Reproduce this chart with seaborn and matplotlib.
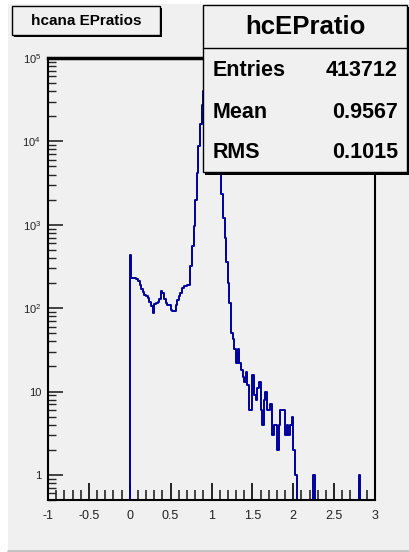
import numpy as np
import pandas as pd
import matplotlib
matplotlib.use("Agg")
import matplotlib.pyplot as plt
from matplotlib.patches import Rectangle
from matplotlib.lines import Line2D
from matplotlib.ticker import FixedLocator, LogLocator, NullFormatter, MultipleLocator
import seaborn as sns

# ---------------- data ----------------
bin_width = 0.02
first_bin_low = 0.0
counts = [
    430, 230, 232, 230, 225, 210, 190, 172, 157, 144,
    140, 131, 120, 105, 88, 112, 115, 120, 130, 160,
    150, 130, 115, 108, 108, 94, 92, 92, 110, 125,
    140, 150, 175, 185, 185, 190, 190, 320, 560, 970,
    2000, 4200, 8800, 16000, 27500, 40000, 52000, 58000, 56000, 46000,
    35000, 24000, 15000, 9500, 6200, 4300, 2320, 1210, 695, 362,
    198, 114, 50, 43, 32, 22, 32, 22, 18, 15,
    13, 17, 12, 6, 6, 16, 9, 8, 11, 13,
    6, 4, 8, 10, 6, 6, 7, 3, 4, 4,
    2, 4, 6, 6, 6, 3, 4, 3, 4, 5,
    2, 1,
]
isolated_x = [2.25, 2.81]
isolated_counts = [1, 1]

hist_title = "hcana EPratios"
stats_name = "hcEPratio"
stats_labels = ["Entries", "Mean", "RMS"]
stats_values = ["413712", "0.9567", "0.1015"]

x_ticks = [-1, -0.5, 0, 0.5, 1, 1.5, 2, 2.5, 3]
x_tick_labels = ["-1", "-0.5", "0", "0.5", "1", "1.5", "2", "2.5", "3"]
y_ticks = [1, 10, 100, 1000, 10000, 100000]
y_tick_labels = ["1", "10", r"$10^{2}$", r"$10^{3}$", r"$10^{4}$", r"$10^{5}$"]

centers = first_bin_low + bin_width * (np.arange(len(counts)) + 0.5)
df = pd.DataFrame({
    "ratio": np.concatenate([centers, isolated_x]),
    "n": np.array(counts + isolated_counts, dtype=float),
})

# ---------------- style ----------------
sns.set_theme(style="ticks")
plt.rcParams["font.family"] = ["Liberation Sans", "DejaVu Sans"]
plt.rcParams["axes.unicode_minus"] = False
plt.rcParams["mathtext.fontset"] = "custom"
plt.rcParams["mathtext.rm"] = "Liberation Sans"
plt.rcParams["mathtext.it"] = "Liberation Sans"
plt.rcParams["mathtext.default"] = "regular"

W, H = 409, 552
def fx(px):
    return px / W
def fy(py):
    return 1 - py / H
def frect(x0, y0, x1, y1, **kw):
    return Rectangle((fx(x0), fy(y1)), (x1 - x0) / W, (y1 - y0) / H,
                     transform=fig.transFigure, **kw)

canvas_col = "#f0f0f0"
line_col = "#00009c"

fig = plt.figure(figsize=(W / 100, H / 100), dpi=100, facecolor="white")
fig.patches.append(frect(8, 4, 409, 550, facecolor=canvas_col,
                         edgecolor="none", zorder=-10))
fig.add_artist(Line2D([fx(8), 1], [fy(550.5), fy(550.5)], color="#b8b8b8",
                      lw=1.2, transform=fig.transFigure, zorder=-5))

ax = fig.add_axes([fx(48), fy(500), (375 - 48) / W, (500 - 58) / H])
ax.set_facecolor(canvas_col)

sns.histplot(data=df, x="ratio", weights="n", bins=200, binrange=(-1, 3),
             element="step", fill=False, color=line_col, linewidth=1.4, ax=ax)
ax.set_yscale("log")
ax.set_xlim(-1, 3)
ax.set_ylim(0.5, 1e5)
ax.set_xlabel("")
ax.set_ylabel("")

ax.xaxis.set_major_locator(FixedLocator(x_ticks))
ax.set_xticklabels(x_tick_labels)
ax.xaxis.set_minor_locator(MultipleLocator(0.1))
ax.yaxis.set_major_locator(FixedLocator(y_ticks))
ax.set_yticklabels(y_tick_labels)
ax.yaxis.set_minor_locator(LogLocator(base=10, subs=np.arange(2, 10), numticks=20))
ax.yaxis.set_minor_formatter(NullFormatter())

ax.tick_params(axis="x", which="major", direction="in", length=12, width=1.2,
               labelsize=9, pad=7, colors="black", labelcolor="#222222")
ax.tick_params(axis="x", which="minor", direction="in", length=7, width=1.2)
ax.tick_params(axis="y", which="major", direction="in", length=11, width=1.2,
               labelsize=8, pad=5, labelcolor="#222222")
ax.tick_params(axis="y", which="minor", direction="in", length=5.5, width=1.0)
ax.tick_params(top=False, right=False, which="both")

for side, s in ax.spines.items():
    s.set_visible(True)
    s.set_color("black")
    s.set_linewidth(1.5)
ax.spines["top"].set_linewidth(2.5)

# ---------------- title box ----------------
fig.patches.append(frect(14, 8, 162, 37, facecolor="black", edgecolor="none", zorder=5))
fig.patches.append(frect(12, 6, 160, 35, facecolor=canvas_col, edgecolor="black",
                         linewidth=1.0, zorder=6))
fig.text(fx(86), fy(21), hist_title, ha="center", va="center", fontsize=11,
         fontweight="bold", color="black", zorder=7)

# ---------------- stats box ----------------
fig.patches.append(frect(205, 7, 409, 175, facecolor="black", edgecolor="none", zorder=5))
fig.patches.append(frect(203, 5, 407, 172, facecolor=canvas_col, edgecolor="black",
                         linewidth=1.0, zorder=6))
fig.add_artist(Line2D([fx(203), fx(407)], [fy(48), fy(48)], color="black", lw=1.0,
                      transform=fig.transFigure, zorder=7))
fig.text(fx(305), fy(27), stats_name, ha="center", va="center", fontsize=18.5,
         fontweight="bold", color="black", zorder=8)
row_y = [70, 112, 152]
for lab, val, yy in zip(stats_labels, stats_values, row_y):
    fig.text(fx(213), fy(yy), lab, ha="left", va="center", fontsize=15.5,
             fontweight="bold", color="black", zorder=8)
    fig.text(fx(398), fy(yy), val, ha="right", va="center", fontsize=15.5,
             fontweight="bold", color="black", zorder=8)

fig.savefig("out.png", dpi=100, facecolor=fig.get_facecolor())
